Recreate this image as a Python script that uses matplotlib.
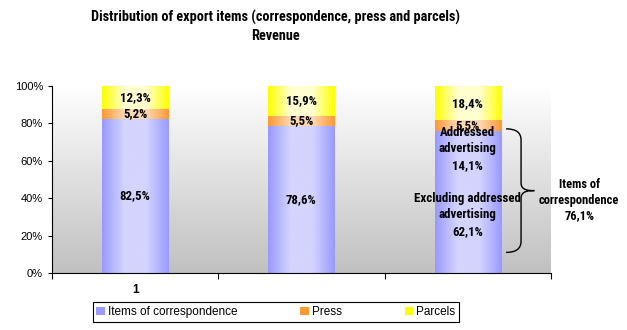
import numpy as np
import matplotlib
matplotlib.use("Agg")
import matplotlib.pyplot as plt
from matplotlib import font_manager
from matplotlib.font_manager import FontProperties
from matplotlib.path import Path
from matplotlib.patches import PathPatch, Patch
from matplotlib.colors import LinearSegmentedColormap

plt.rcParams['font.family'] = ['Liberation Sans', 'DejaVu Sans']

# data
categories = [0, 1, 2]
series = ["Items of correspondence", "Press", "Parcels"]
correspondence = [82.5, 78.6, 76.1]
press = [5.2, 5.5, 5.5]
parcels = [12.3, 15.9, 18.4]
labels_corr = ["82,5%", "78,6%", ""]
labels_press = ["5,2%", "5,5%", "5,5%"]
labels_parc = ["12,3%", "15,9%", "18,4%"]
split_values = [62.1, 14.1]  # excluding / addressed advertising in bar 3
split_labels = ["Excluding addressed\nadvertising\n62,1%", "Addressed\nadvertising\n14,1%"]
total_label = "Items of\ncorrespondence\n76,1%"

edge_cols = ["#9999ff", "#ff9933", "#ffff00"]
mid_cols = ["#d4d4ff", "#ffd9b3", "#ffffd0"]

# pick a narrow bold face (Arial Narrow look-alike)
nfont = dict(family=['DejaVu Sans'], stretch='condensed')
for fam, st in [('Liberation Sans Narrow', 'condensed'), ('Arial Narrow', 'condensed'),
                ('Roboto Condensed', 'condensed'), ('DejaVu Sans', 'condensed')]:
    try:
        fp = font_manager.findfont(FontProperties(family=fam, weight='bold', stretch=st),
                                   fallback_to_default=False)
    except ValueError:
        continue
    fn = fp.split('/')[-1]
    if 'Bold' in fn and ('Narrow' in fn or 'Condensed' in fn):
        nfont = dict(family=[fam, 'DejaVu Sans'], stretch=st)
        break

fig = plt.figure(figsize=(6.27, 3.30), dpi=100)
ax = fig.add_axes([52 / 627, 57 / 330, 499 / 627, 187 / 330])

# background gradient
bg = LinearSegmentedColormap.from_list("bg", ["#c0c0c0", "#ffffff"])
ax.imshow(np.linspace(0, 1, 256).reshape(-1, 1), cmap=bg, aspect='auto',
          extent=[0, 1, 0, 1], transform=ax.transAxes, origin='lower', zorder=0)

bottoms = np.zeros(3)
all_bars = []
for vals, ec, mc, name in zip([correspondence, press, parcels], edge_cols, mid_cols, series):
    bars = ax.bar(categories, vals, 0.4, bottom=bottoms, color=ec, label=name, zorder=1)
    cmap = LinearSegmentedColormap.from_list(name, [ec, mc, mc, ec])
    grad = np.linspace(0, 1, 128).reshape(1, -1)
    for b in bars:
        x0, y0 = b.get_x(), b.get_y()
        ax.imshow(grad, cmap=cmap, aspect='auto', zorder=2,
                  extent=[x0, x0 + b.get_width(), y0, y0 + b.get_height()])
    all_bars.append(bars)
    bottoms = bottoms + np.array(vals)
ax.set_xlim(-0.5, 2.5)
ax.set_ylim(0, 100)

# value labels
lab_kw = dict(ha='center', va='center', fontsize=9.3, fontweight='bold', zorder=5, **nfont)
for bars, labs in zip(all_bars, [labels_corr, labels_press, labels_parc]):
    for b, t in zip(bars, labs):
        if t:
            ax.text(b.get_x() + b.get_width() / 2, b.get_y() + b.get_height() / 2, t, **lab_kw)

# split labels in bar 3
ax.text(2, split_values[0] / 2, split_labels[0], linespacing=1.35, **lab_kw)
ax.text(2, split_values[0] + split_values[1] / 2 - 2.8, split_labels[1], linespacing=1.35, **lab_kw)

# brace
top, bot = correspondence[2] + 1, 11
mid = (top + bot) / 2
xl, xm, xt = 2.23, 2.32, 2.40
verts = [(xl, top), (xm, top), (xm, top - 6),
         (xm, mid + 4),
         (xm, mid), (xt - 0.03, mid), (xt, mid),
         (xt - 0.03, mid), (xm, mid), (xm, mid - 4),
         (xm, bot + 6),
         (xm, bot), (xl, bot)]
codes = [Path.MOVETO, Path.CURVE3, Path.CURVE3, Path.LINETO,
         Path.CURVE4, Path.CURVE4, Path.CURVE4,
         Path.CURVE4, Path.CURVE4, Path.CURVE4,
         Path.LINETO, Path.CURVE3, Path.CURVE3]
ax.add_patch(PathPatch(Path(verts, codes), fill=False, lw=1, ec='black', zorder=6, clip_on=False))
ax.text(2.67, 39, total_label, ha='center', va='center', fontsize=9, fontweight='bold',
        linespacing=1.3, clip_on=False, **nfont)

# axes styling
for s in ['top', 'right']:
    ax.spines[s].set_visible(False)
ax.set_yticks(np.arange(0, 101, 20))
ax.set_yticklabels([f"{v}%" for v in range(0, 101, 20)], fontsize=8)
ax.set_xticks([-0.5, 0.5, 1.5, 2.5])
ax.set_xticklabels([])
ax.tick_params(axis='x', length=4, direction='out')
ax.tick_params(axis='y', length=3, direction='out')
ax.text(0, -9, "1", ha='center', va='center', fontsize=8.5, fontweight='bold', clip_on=False)

fig.suptitle("Distribution of export items (correspondence, press and parcels)\nRevenue",
             x=0.44, y=0.97, fontsize=10.3, fontweight='bold', va='top', linespacing=1.35,
             **nfont)

handles = [Patch(facecolor=c) for c in edge_cols]
leg = fig.legend(handles, series, loc='center', bbox_to_anchor=(276 / 627, 1 - 312 / 330), ncol=3,
                 fancybox=False, edgecolor='black', fontsize=8.5, handlelength=0.7, handleheight=0.7,
                 handletextpad=0.3, columnspacing=5.3, borderpad=0.3, framealpha=1)
leg.get_frame().set_linewidth(0.8)

fig.savefig("out.png", dpi=100)
